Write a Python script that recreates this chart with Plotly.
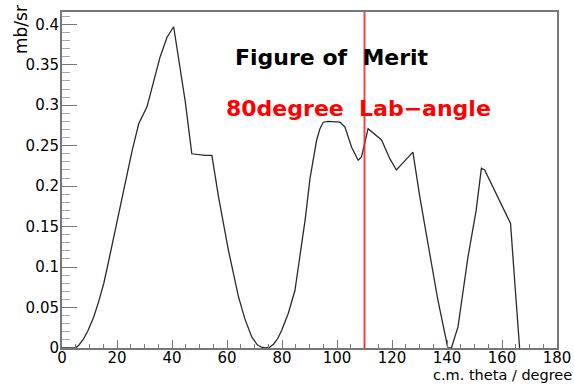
import plotly.graph_objects as go

# Cross section vs c.m. angle
theta = [0, 4.9, 6.0, 7.9, 9.5, 11.5, 13.3, 15.2, 17.0, 18.8, 20.6, 22.4, 25.5, 27.9,
         30.9, 35.7, 38.2, 40.6, 44.8, 47.2, 52.1, 54.5, 56.9, 60.5, 64.2, 66.5,
         69.0, 71.0, 72.5, 74.0, 75.5, 77.0, 78.5, 79.9, 82.3, 84.7, 86.5, 88.4,
         90.2, 92.6, 93.8, 95.0, 96.8, 101.1, 102.9, 105.3, 107.7, 108.9, 111.3,
         116.2, 119.2, 121.6, 127.6, 130.1, 133.7, 136.7, 140.3, 141.6, 144.0,
         147.6, 150.6, 152.5, 153.7, 157.3, 162.1, 163.1, 164.5, 166.4]
xsec = [0, 0, 0.003, 0.0116, 0.022, 0.038, 0.057, 0.080, 0.108, 0.137, 0.166, 0.195,
        0.244, 0.277, 0.298, 0.360, 0.384, 0.397, 0.305, 0.240, 0.238, 0.238, 0.187,
        0.121, 0.063, 0.036, 0.0136, 0.004, 0.001, 0, 0.001, 0.005, 0.012, 0.022,
        0.043, 0.071, 0.114, 0.158, 0.210, 0.257, 0.271, 0.279, 0.280, 0.279, 0.273,
        0.248, 0.232, 0.236, 0.271, 0.257, 0.234, 0.220, 0.242, 0.187, 0.117, 0.059,
        0, 0, 0.026, 0.112, 0.170, 0.222, 0.220, 0.195, 0.162, 0.154, 0.088, 0]

lab_line_theta = 110

x_ticks = [0, 20, 40, 60, 80, 100, 120, 140, 160, 180]
y_ticks = [0, 0.05, 0.1, 0.15, 0.2, 0.25, 0.3, 0.35, 0.4]
y_ticktext = ["0", "0.05", "0.1", "0.15", "0.2", "0.25", "0.3", "0.35", "0.4"]

FONT = "DejaVu Sans"
AXIS_COLOR = "#777777"

fig = go.Figure()
fig.add_trace(go.Scatter(x=theta, y=xsec, mode="lines",
                         line=dict(color="#2a2a2a", width=1.3),
                         showlegend=False, hoverinfo="skip"))

fig.add_shape(type="line", xref="x", yref="paper",
              x0=lab_line_theta, x1=lab_line_theta, y0=0, y1=1,
              line=dict(color="rgba(255,30,30,0.85)", width=2))

fig.add_annotation(text="<b>Figure of \u00a0Merit</b>", xref="paper", yref="paper",
                   x=0.546, y=0.865, xanchor="center", yanchor="middle",
                   showarrow=False, font=dict(family=FONT, size=22, color="black"))
fig.add_annotation(text="<b>80degree \u00a0Lab\u2212angle</b>", xref="paper", yref="paper",
                   x=0.599, y=0.713, xanchor="center", yanchor="middle",
                   showarrow=False, font=dict(family=FONT, size=22, color="#ff0000"))
fig.add_annotation(text="mb/sr", xref="paper", yref="paper",
                   x=-0.0817, y=0.948, xanchor="center", yanchor="middle", textangle=-90,
                   showarrow=False, font=dict(family=FONT, size=17, color="black"))
fig.add_annotation(text="c.m. theta / degree", xref="paper", yref="paper",
                   x=1.035, y=-0.081, xanchor="right", yanchor="middle",
                   showarrow=False, font=dict(family=FONT, size=14.5, color="black"))

fig.update_layout(
    width=574, height=386,
    margin=dict(l=61.5, r=16.5, t=11.7, b=38.3),
    paper_bgcolor="white", plot_bgcolor="white",
    font=dict(family=FONT, size=15, color="black"),
    xaxis=dict(range=[0, 180], tickvals=x_ticks, ticks="inside", ticklen=8, tickwidth=1,
               tickcolor=AXIS_COLOR, showline=True, linecolor=AXIS_COLOR, linewidth=2,
               mirror=True, showgrid=False, zeroline=False, automargin=False,
               ticklabelstandoff=-5,
               minor=dict(dtick=5, tick0=0, ticks="inside", ticklen=4, tickcolor=AXIS_COLOR)),
    yaxis=dict(range=[0, 0.4152], tickvals=y_ticks, ticktext=y_ticktext, ticks="inside",
               ticklen=15, tickwidth=1, tickcolor=AXIS_COLOR, showline=True,
               linecolor=AXIS_COLOR, linewidth=2, mirror=True, showgrid=False, zeroline=False,
               automargin=False, ticklabelstandoff=-2,
               minor=dict(dtick=0.01, tick0=0, ticks="inside", ticklen=8, tickcolor="#aaaaaa")),
)

fig.write_html("out.html")
